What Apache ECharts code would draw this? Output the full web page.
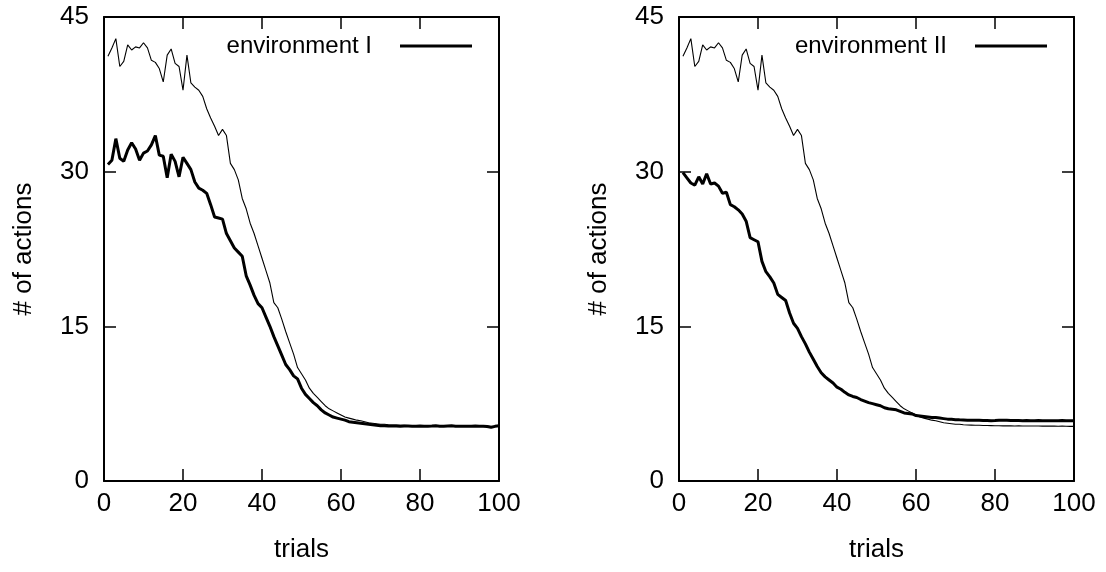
<!DOCTYPE html>
<html>
<head>
<meta charset="utf-8">
<script src="https://cdn.jsdelivr.net/npm/echarts@6/dist/echarts.min.js"></script>
<style>
html,body{margin:0;padding:0;background:#fff;}
#chart{width:1106px;height:572px;}
</style>
</head>
<body>
<div id="chart"></div>
<script>
// ---- data ----
const trials = Array.from({length: 100}, (_, i) => i + 1);

// thin line (same reference curve in both panels)
const baseline = [
  41.2, 42.0, 42.9, 40.2, 40.7, 42.3, 41.8, 42.1, 42.0, 42.5,
  42.0, 40.8, 40.6, 40.0, 38.7, 41.3, 41.9, 40.5, 40.2, 37.9,
  41.3, 38.6, 38.2, 37.9, 37.3, 36.1, 35.2, 34.4, 33.5, 34.1,
  33.5, 30.8, 30.2, 29.2, 27.4, 26.4, 25.0, 24.0, 22.8, 21.6,
  20.4, 19.2, 17.3, 16.8, 15.7, 14.5, 13.4, 12.3, 11.0, 10.4,
  9.8, 9.0, 8.5, 8.1, 7.7, 7.3, 7.0, 6.8, 6.6, 6.4,
  6.2, 6.1, 6.0, 5.9, 5.85, 5.75, 5.65, 5.6, 5.55, 5.5,
  5.5, 5.45, 5.43, 5.42, 5.4, 5.4, 5.38, 5.38, 5.37, 5.36,
  5.36, 5.35, 5.36, 5.35, 5.34, 5.35, 5.34, 5.33, 5.34, 5.33,
  5.33, 5.32, 5.33, 5.32, 5.32, 5.31, 5.32, 5.31, 5.3, 5.3
];

// thick line, environment I
const envI = [
  30.7, 31.1, 33.2, 31.3, 31.0, 32.1, 32.8, 32.2, 31.1, 31.8,
  32.0, 32.6, 33.5, 31.6, 31.5, 29.4, 31.7, 31.0, 29.5, 31.4,
  30.8, 30.2, 29.0, 28.4, 28.2, 27.9, 26.8, 25.6, 25.5, 25.4,
  24.0, 23.3, 22.6, 22.2, 21.8, 19.9, 19.0, 18.0, 17.2, 16.8,
  15.9, 15.0, 14.0, 13.1, 12.2, 11.3, 10.8, 10.2, 9.9, 9.0,
  8.4, 8.0, 7.6, 7.3, 6.9, 6.6, 6.4, 6.2, 6.1, 6.0,
  5.9, 5.75, 5.7, 5.65, 5.6, 5.55, 5.5, 5.45, 5.4, 5.36,
  5.35, 5.34, 5.33, 5.34, 5.32, 5.33, 5.33, 5.32, 5.31, 5.33,
  5.3, 5.31, 5.33, 5.36, 5.32, 5.3, 5.33, 5.35, 5.31, 5.3,
  5.32, 5.3, 5.31, 5.33, 5.3, 5.32, 5.28, 5.2, 5.3, 5.35
];

// thick line, environment II
const envII = [
  29.9, 29.4, 28.9, 28.7, 29.5, 28.8, 29.8, 28.8, 28.9, 28.6,
  27.9, 28.0, 26.8, 26.6, 26.3, 25.9, 25.2, 23.6, 23.4, 23.2,
  21.3, 20.3, 19.8, 19.2, 18.1, 17.8, 17.5, 16.3, 15.3, 14.8,
  14.0, 13.3, 12.5, 11.8, 11.1, 10.5, 10.1, 9.8, 9.5, 9.1,
  8.9, 8.6, 8.35, 8.2, 8.1, 7.9, 7.75, 7.6, 7.5, 7.4,
  7.3, 7.1, 7.0, 6.95, 6.9, 6.75, 6.6, 6.55, 6.5, 6.35,
  6.3, 6.25, 6.2, 6.15, 6.15, 6.1, 6.05, 6.0, 5.98, 5.95,
  5.93, 5.92, 5.9, 5.9, 5.89, 5.88, 5.87, 5.86, 5.85, 5.86,
  5.88, 5.9, 5.89, 5.87, 5.86, 5.86, 5.85, 5.86, 5.85, 5.85,
  5.86, 5.85, 5.85, 5.84, 5.85, 5.85, 5.86, 5.85, 5.85, 5.85
];

const xTicks = [0, 20, 40, 60, 80, 100];
const yTicks = [0, 15, 30, 45];
const legendNames = ['environment I', 'environment II'];
const xName = 'trials';
const yName = '# of actions';

// ---- chart ----
const FONT = 'Liberation Sans, Arial, Helvetica, sans-serif';
const pair = (vals) => trials.map((t, i) => [t, vals[i]]);

function xAx(grid, pos) {
  const main = pos === 'bottom';
  return {
    gridIndex: grid, type: 'value', position: pos,
    min: xTicks[0], max: xTicks[xTicks.length - 1], interval: xTicks[1] - xTicks[0],
    axisLine: {show: true, onZero: false, lineStyle: {color: '#000', width: 2}},
    axisTick: {show: true, inside: true, length: 12, lineStyle: {color: '#000', width: 1.5}},
    axisLabel: {show: main, color: '#000', fontSize: 26, fontFamily: FONT, margin: 10},
    splitLine: {show: false},
    name: main ? xName : '', nameLocation: 'middle', nameGap: 56,
    nameTextStyle: {color: '#000', fontSize: 26, fontFamily: FONT}
  };
}
function yAx(grid, pos) {
  const main = pos === 'left';
  return {
    gridIndex: grid, type: 'value', position: pos,
    min: yTicks[0], max: yTicks[yTicks.length - 1], interval: yTicks[1] - yTicks[0],
    axisLine: {show: true, onZero: false, lineStyle: {color: '#000', width: 2}},
    axisTick: {show: true, inside: true, length: 12, lineStyle: {color: '#000', width: 1.5}},
    axisLabel: {show: main, color: '#000', fontSize: 26, fontFamily: FONT, margin: 15},
    splitLine: {show: false},
    name: main ? yName : '', nameLocation: 'middle', nameGap: 67, nameRotate: 90,
    nameTextStyle: {color: '#000', fontSize: 26, fontFamily: FONT}
  };
}

function legendFor(name, right) {
  return {
    data: [name], right: right, top: 29, align: 'right',
    icon: 'rect', itemWidth: 72, itemHeight: 3,
    selectedMode: false,
    textStyle: {color: '#000', fontSize: 24, fontFamily: FONT, padding: [0, 23, 0, 0]}
  };
}

const chart = echarts.init(document.getElementById('chart'), null, {renderer: 'canvas'});
chart.setOption({
  animation: false,
  backgroundColor: '#fff',
  grid: [
    {left: 104, top: 17, width: 395, height: 464},
    {left: 679, top: 17, width: 395, height: 464}
  ],
  xAxis: [xAx(0, 'bottom'), xAx(0, 'top'), xAx(1, 'bottom'), xAx(1, 'top')],
  yAxis: [yAx(0, 'left'), yAx(0, 'right'), yAx(1, 'left'), yAx(1, 'right')],
  legend: [legendFor(legendNames[0], 629), legendFor(legendNames[1], 54)],
  series: [
    {name: 'reference I', type: 'line', xAxisIndex: 0, yAxisIndex: 0, data: pair(baseline),
     showSymbol: false, lineStyle: {color: '#000', width: 1.1}, itemStyle: {color: '#000'}},
    {name: legendNames[0], type: 'line', xAxisIndex: 0, yAxisIndex: 0, data: pair(envI),
     showSymbol: false, lineStyle: {color: '#000', width: 3}, itemStyle: {color: '#000'}},
    {name: 'reference II', type: 'line', xAxisIndex: 2, yAxisIndex: 2, data: pair(baseline),
     showSymbol: false, lineStyle: {color: '#000', width: 1.1}, itemStyle: {color: '#000'}},
    {name: legendNames[1], type: 'line', xAxisIndex: 2, yAxisIndex: 2, data: pair(envII),
     showSymbol: false, lineStyle: {color: '#000', width: 3}, itemStyle: {color: '#000'}}
  ]
});
</script>
</body>
</html>
